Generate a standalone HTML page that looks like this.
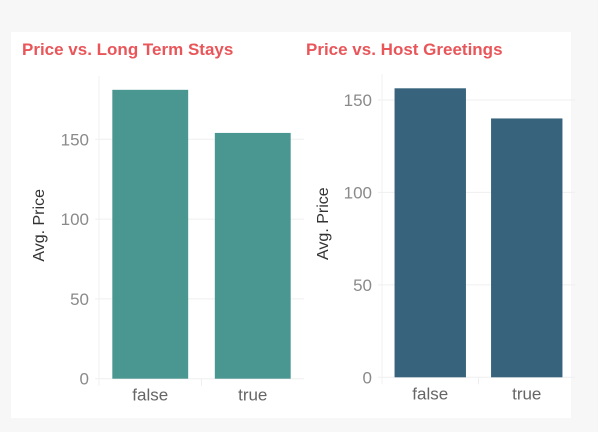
<!DOCTYPE html>
<html><head><meta charset="utf-8"><style>
html,body{margin:0;padding:0;background:#f7f7f7;width:598px;height:432px;overflow:hidden}
svg{display:block;font-family:"Liberation Sans",sans-serif}
</style></head><body>
<svg id="c" width="598" height="432">
<rect x="11" y="32" width="560" height="386" fill="#ffffff"/>
</svg>
<script>
const categories = ["false", "true"];
const longTermValues = [181, 154];
const greetingValues = [156.3, 140];
const yTicks = [0, 50, 100, 150];

const svg = document.getElementById('c');
const NS = 'http://www.w3.org/2000/svg';
function mk(tag, attrs, parent) {
  const e = document.createElementNS(NS, tag);
  for (const k in attrs) e.setAttribute(k, attrs[k]);
  (parent || svg).appendChild(e);
  return e;
}

function chart(cfg) {
  const g = mk('g', {});
  
  
  const y = v => cfg.y0 - v * cfg.scale;
  const bandW = (cfg.right - cfg.left) / categories.length;
  const x = i => cfg.left + i * bandW;
  yTicks.forEach(t => {
    const l = mk('line', {x1: cfg.left - 4, x2: cfg.right, y1: y(t), y2: y(t), stroke: '#efefef', 'stroke-width': 1}, g);
    
    
    const tx = mk('text', {x: cfg.left - 10, y: y(t) + 6, 'text-anchor': 'end', 'font-size': 17, fill: '#8a8a8a'}, g);
    tx.textContent = t;
    
    
  });
  const ax = mk('line', {x1: cfg.left, x2: cfg.left, y1: cfg.top, y2: cfg.y0 + 7, stroke: '#f0f0f0'}, g);
  
  
  const dv = mk('line', {x1: x(1), x2: x(1), y1: cfg.y0, y2: cfg.y0 + 7, stroke: '#eeeeee'}, g);
  
  
  cfg.values.forEach((v, i) => {
    const pad = bandW * 0.13;
    const r = mk('rect', {x: x(i) + pad, y: y(v), width: bandW - 2 * pad, height: cfg.y0 - y(v), fill: cfg.color}, g);
    
    
    const t = mk('text', {x: x(i) + bandW / 2, y: cfg.y0 + 22, 'text-anchor': 'middle', 'font-size': 17, fill: '#666'}, g);
    t.textContent = categories[i];
    
    
  });
  const cy = (cfg.top + cfg.y0) / 2 - 2;
  const at = mk('text', {x: cfg.titleX, y: cy, 'text-anchor': 'middle', 'font-size': 16, fill: '#333', transform: 'rotate(-90 ' + cfg.titleX + ' ' + cy + ')'}, g);
  at.textContent = 'Avg. Price';
  
  
  const tt = mk('text', {x: cfg.headX, y: 55, 'font-size': 17, 'font-weight': 'bold', fill: '#e8565a'}, g);
  tt.textContent = cfg.title;
  
  
}

chart({name: 'long-term-stays-chart', title: 'Price vs. Long Term Stays', values: longTermValues, color: '#4a9690',
  left: 99, right: 304, top: 76, y0: 378.7, scale: 1.596, titleX: 44, headX: 22});
chart({name: 'host-greetings-chart', title: 'Price vs. Host Greetings', values: greetingValues, color: '#37637d',
  left: 382, right: 575, top: 74, y0: 377.3, scale: 1.849, titleX: 328, headX: 306});
</script>
</body></html>
